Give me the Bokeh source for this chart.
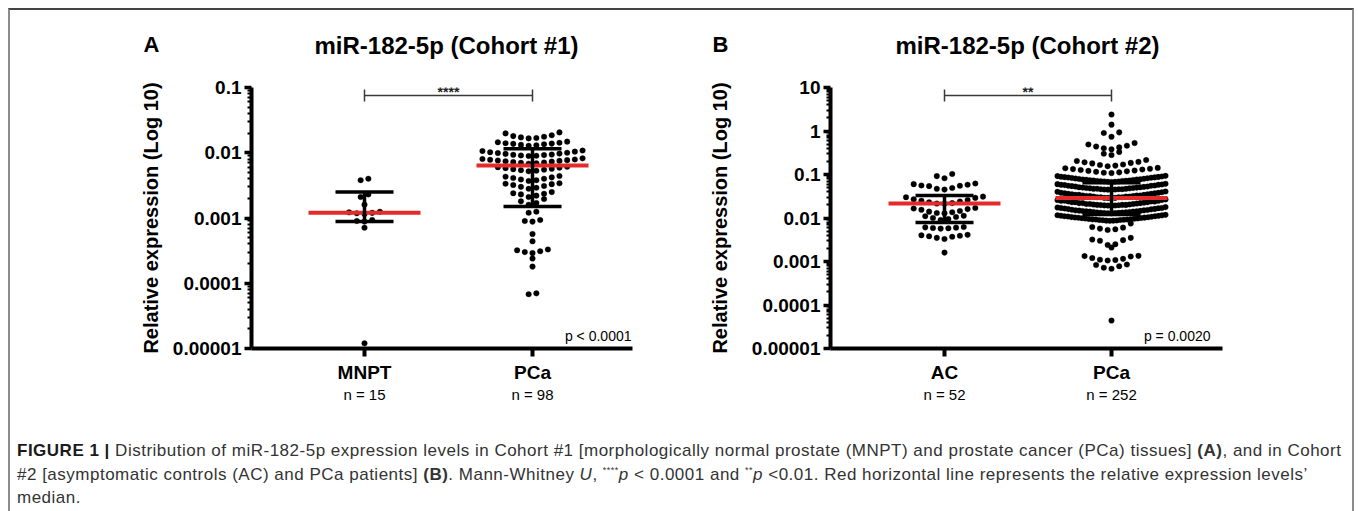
import math
from bokeh.plotting import figure
from bokeh.models import (Range1d, FixedTicker, CustomJSTickFormatter, LinearAxis,
                          Label, Div, ColumnDataSource)
from bokeh.core.properties import value
from bokeh.layouts import row, column
from bokeh.embed import file_html
from bokeh.resources import INLINE

# ---------------- data ----------------
groups_a = ["MNPT", "PCa"]
n_labels_a = ["n = 15", "n = 98"]
title_a = "miR-182-5p (Cohort #1)"
stars_a = "****"
pval_a = "p < 0.0001"
mnpt_a = [0.0040, 0.0038, 0.0023, 0.0021, 0.0016, 0.00125, 0.00122, 0.0012, 0.00118,
          0.00115, 0.00093, 0.0009, 0.00088, 0.00071, 0.000012]
pca_a = [0.0205, 0.0198, 0.0185, 0.018, 0.0176, 0.0172, 0.0168, 0.0166,
         0.0148, 0.0145, 0.0142, 0.014, 0.0138, 0.0137, 0.0135, 0.0132, 0.013, 0.0128,
         0.0108, 0.0106, 0.0104, 0.0102, 0.0100, 0.0099, 0.0097, 0.0096, 0.0094, 0.0093,
         0.0092, 0.0091, 0.0090, 0.0089,
         0.0082, 0.0080, 0.0079, 0.0078, 0.0077, 0.0076, 0.0075, 0.0074, 0.0073, 0.0072,
         0.0071, 0.0070, 0.0069, 0.0068,
         0.0061, 0.0060, 0.0059, 0.0058, 0.0057, 0.0056, 0.0055, 0.0054, 0.0053, 0.0052,
         0.0044, 0.0043, 0.0042, 0.0041, 0.0040, 0.0039, 0.0038, 0.0037,
         0.0034, 0.00335, 0.0033, 0.0032, 0.0031, 0.0030, 0.0029, 0.0028,
         0.0025, 0.0024, 0.00235, 0.0023, 0.0022, 0.0021,
         0.00195, 0.0018, 0.0017, 0.0016,
         0.00125, 0.0012,
         0.00093, 0.0009, 0.00088,
         0.00057, 0.00044,
         0.00033, 0.00032, 0.00031, 0.0003, 0.00029,
         0.00024, 0.00018, 0.000070, 0.000068]
median_a = [0.0012, 0.0064]
q1_a = [0.00088, 0.0015]
q3_a = [0.0025, 0.0115]
yticks_a = [1e-5, 1e-4, 1e-3, 1e-2, 1e-1]
ylabels_a = ["0.00001", "0.0001", "0.001", "0.01", "0.1"]

groups_b = ["AC", "PCa"]
n_labels_b = ["n = 52", "n = 252"]
title_b = "miR-182-5p (Cohort #2)"
stars_b = "**"
pval_b = "p = 0.0020"
ac_b = [0.103, 0.092, 0.082,
        0.062, 0.060, 0.058, 0.056, 0.055, 0.054, 0.049, 0.047, 0.045,
        0.031, 0.030, 0.029, 0.027, 0.026, 0.025, 0.024, 0.023, 0.022, 0.0215, 0.0212,
        0.017, 0.0165, 0.016, 0.0155, 0.0145, 0.014, 0.0135, 0.013, 0.0128,
        0.0112, 0.011, 0.0105, 0.010, 0.0095, 0.009,
        0.0062, 0.0061, 0.006, 0.0059, 0.0058, 0.0057,
        0.0041, 0.004, 0.0039, 0.0038, 0.0037, 0.0035, 0.0033,
        0.0016]
pca_b = [2.4, 1.4, 0.93, 0.90, 0.74,
         0.53, 0.49, 0.46, 0.44, 0.42, 0.40, 0.38,
         0.33, 0.30, 0.28,
         0.215, 0.205, 0.195, 0.19, 0.185, 0.18, 0.17, 0.165, 0.16, 0.155,
         0.142, 0.139, 0.136, 0.133, 0.13, 0.127, 0.124, 0.121, 0.118, 0.115, 0.112, 0.11, 0.108,
         0.093, 0.092, 0.090, 0.089, 0.088, 0.087, 0.086, 0.085, 0.084, 0.083,
         0.082, 0.081, 0.080, 0.079, 0.078, 0.077, 0.077, 0.076, 0.075, 0.074,
         0.073, 0.073, 0.072, 0.071, 0.071, 0.070, 0.069, 0.069, 0.068, 0.068, 0.067,
         0.061, 0.060, 0.059, 0.058, 0.058, 0.057, 0.056, 0.055, 0.055, 0.054,
         0.053, 0.053, 0.052, 0.051, 0.051, 0.050, 0.050, 0.049, 0.049, 0.048,
         0.048, 0.047, 0.047, 0.047, 0.046, 0.046, 0.046, 0.045, 0.045, 0.045, 0.0445,
         0.0405, 0.040, 0.039, 0.038, 0.038, 0.037, 0.037, 0.036, 0.036, 0.035,
         0.035, 0.034, 0.034, 0.034, 0.033, 0.033, 0.033, 0.032, 0.032, 0.032,
         0.031, 0.031, 0.031, 0.030, 0.030, 0.030, 0.030, 0.029, 0.029, 0.029, 0.029,
         0.0268, 0.026, 0.026, 0.025, 0.025, 0.025, 0.024, 0.024, 0.024, 0.023,
         0.023, 0.023, 0.0225, 0.022, 0.022, 0.022, 0.0215, 0.021, 0.021, 0.021,
         0.0205, 0.0205, 0.020, 0.020, 0.020, 0.0198, 0.0196, 0.0195, 0.0194, 0.0193, 0.0192,
         0.0178, 0.0175, 0.017, 0.017, 0.0168, 0.0165, 0.0162, 0.016, 0.0158, 0.0155,
         0.0153, 0.015, 0.015, 0.0148, 0.0146, 0.0145, 0.0143, 0.0142, 0.014, 0.014,
         0.0138, 0.0137, 0.0135, 0.0134, 0.0133, 0.0132, 0.0131, 0.013, 0.013, 0.0129, 0.0128,
         0.0118, 0.0116, 0.0115, 0.0113, 0.0112, 0.011, 0.011, 0.0108, 0.0107, 0.0105,
         0.0104, 0.0103, 0.0102, 0.0101, 0.010, 0.0099, 0.0098, 0.0097, 0.0096, 0.0095,
         0.0094, 0.0093, 0.0092, 0.0092, 0.0091, 0.009, 0.009, 0.0089, 0.0088, 0.0087,
         0.0087, 0.0086,
         0.0075, 0.0062, 0.006, 0.0057, 0.0055, 0.0053,
         0.0035, 0.0032, 0.0031, 0.003, 0.0025, 0.0024,
         0.0021,
         0.00135, 0.00133, 0.0013, 0.0012, 0.00115, 0.0011, 0.00108, 0.00105,
         0.00085, 0.00083, 0.00078, 0.00072, 0.00068,
         0.000044]
median_b = [0.0215, 0.029]
q1_b = [0.0079, 0.012]
q3_b = [0.033, 0.065]
yticks_b = [1e-5, 1e-4, 1e-3, 1e-2, 1e-1, 1, 10]
ylabels_b = ["0.00001", "0.0001", "0.001", "0.01", "0.1", "1", "10"]

panel_letters = ["A", "B"]
y_title = "Relative expression (Log 10)"
caption_html = (
    "<b style='color:#1a1a1a'>FIGURE 1 |</b> Distribution of miR-182-5p expression levels in Cohort #1 "
    "[morphologically normal prostate (MNPT) and prostate cancer (PCa) tissues] <b>(A)</b>, and in Cohort<br>"
    "#2 [asymptomatic controls (AC) and PCa patients] <b>(B)</b>. Mann-Whitney <i>U</i>, "
    "<sup style='font-size:9px;line-height:0'>****</sup><i>p</i> &lt; 0.0001 and "
    "<sup style='font-size:9px;line-height:0'>**</sup><i>p</i> &lt;0.01. "
    "Red horizontal line represents the relative expression levels&#8217;<br>median."
)

FONT = "Liberation Sans"
RED = "#e32b2b"

# ---------------- layout constants (page pixels) ----------------
ORIGIN_X, ORIGIN_Y = 10, 10    # page position of the content (inside the border)
TOTAL_W = 1342
HEADER_H = 65
FIG_H = 337
FRAME_TOP = 87                 # page y of plot frames' top
FRAME_H = 261
TOP_BORDER = FRAME_TOP - ORIGIN_Y - HEADER_H
BOTTOM_BORDER = FIG_H - TOP_BORDER - FRAME_H
CAP_H = 99


def swarm(values, center, ppd, ppu, row_h, step, max_half):
    pix = [-math.log10(v) * ppd for v in values]
    order = sorted(range(len(values)), key=lambda i: pix[i])
    rows, cur, start = [], [], None
    for i in order:
        if start is None or pix[i] - start >= row_h:
            if cur:
                rows.append(cur)
            cur, start = [i], pix[i]
        else:
            cur.append(i)
    if cur:
        rows.append(cur)
    xs = [0.0] * len(values)
    for r in rows:
        r = sorted(r, key=lambda i: values[i])
        n = len(r)
        sp = step if n < 2 else min(step, 2 * max_half / (n - 1))
        for k, i in enumerate(r):
            if n % 2:
                slot = 0 if k == 0 else ((k + 1) // 2) * (-1 if k % 2 else 1)
            else:
                slot = (k // 2 + 0.5) * (-1 if k % 2 == 0 else 1)
            xs[i] = center + slot * sp / ppu
    return xs


def make_panel(cfg):
    page_x0 = cfg["page_x0"]
    frame_left = cfg["frame_left"]
    frame_w = cfg["frame_w"]
    ppu = cfg["ppu"]
    cat1_px = cfg["cat1_px"]
    x_start = 1 - (cat1_px - frame_left) / ppu
    x_end = x_start + frame_w / ppu
    ymin, ymax = cfg["ymin"], cfg["ymax"]
    ldec = math.log10(ymax) - math.log10(ymin)
    ppd = FRAME_H / ldec

    def xd(px):
        return x_start + (px - frame_left) / ppu

    def yd(py):
        return 10 ** (math.log10(ymax) - (py - FRAME_TOP) / ppd)

    mbl = frame_left - page_x0
    mbr = cfg["width"] - mbl - frame_w
    p = figure(width=cfg["width"], height=FIG_H,
               x_range=Range1d(x_start, x_end), y_range=Range1d(ymin, ymax),
               y_axis_type="log", output_backend="svg", toolbar_location=None,
               min_border_left=mbl, min_border_right=mbr,
               min_border_top=TOP_BORDER, min_border_bottom=BOTTOM_BORDER)
    p.grid.visible = False
    p.outline_line_color = None
    p.background_fill_color = "white"
    p.border_fill_color = "white"

    # y axis
    ya = p.yaxis[0]
    e0, e1 = round(math.log10(ymin)), round(math.log10(ymax))
    minors = [m * 10.0 ** e for e in range(e0, e1) for m in range(2, 10)]
    ya.ticker = FixedTicker(ticks=cfg["yticks"], minor_ticks=minors)
    ya.formatter = CustomJSTickFormatter(
        args=dict(tick_vals=cfg["yticks"], tick_texts=cfg["ylabels"]),
        code="""
        for (let i = 0; i < tick_vals.length; i++) {
            if (Math.abs(Math.log10(tick_vals[i]) - Math.log10(tick)) < 1e-6) { return tick_texts[i]; }
        }
        return "";
        """)
    ya.axis_line_width = 4
    ya.axis_line_color = "black"
    ya.major_tick_line_width = 3.5
    ya.major_tick_line_color = "black"
    ya.major_tick_out = 7
    ya.major_tick_in = 0
    ya.minor_tick_line_width = 2
    ya.minor_tick_line_color = "black"
    ya.minor_tick_out = 4
    ya.minor_tick_in = 0
    ya.major_label_text_font = FONT
    ya.major_label_text_font_style = "bold"
    ya.major_label_text_font_size = "19px"
    ya.major_label_text_color = "black"
    ya.major_label_standoff = 3
    ya.axis_label = y_title
    ya.axis_label_text_font = FONT
    ya.axis_label_text_font_style = "bold"
    ya.axis_label_text_font_size = "20px"
    ya.axis_label_text_color = "black"
    ya.axis_label_standoff = cfg["ylabel_standoff"]

    # x axis (group names)
    xa = p.xaxis[0]
    xa.ticker = FixedTicker(ticks=[1, 2])
    xa.major_label_overrides = {1: cfg["groups"][0], 2: cfg["groups"][1]}
    xa.axis_line_width = 4
    xa.axis_line_color = "black"
    xa.major_tick_line_width = 4
    xa.major_tick_line_color = "black"
    xa.major_tick_out = 8
    xa.major_tick_in = 0
    xa.minor_tick_line_color = None
    xa.major_label_text_font = FONT
    xa.major_label_text_font_style = "bold"
    xa.major_label_text_font_size = "19px"
    xa.major_label_text_color = "black"
    xa.major_label_standoff = 5

    # second x axis (sample sizes)
    xa2 = LinearAxis(ticker=FixedTicker(ticks=[1, 2]),
                     major_label_overrides={1: cfg["nlabels"][0], 2: cfg["nlabels"][1]})
    xa2.axis_line_color = None
    xa2.major_tick_line_color = None
    xa2.minor_tick_line_color = None
    xa2.major_tick_out = 0
    xa2.major_label_text_font = FONT
    xa2.major_label_text_font_size = "15px"
    xa2.major_label_text_color = "black"
    xa2.major_label_standoff = 0
    p.add_layout(xa2, "below")

    # dots
    step, max_half, row_h = 7.7, cfg["max_half"], cfg["row_h"]
    for ci, vals in enumerate(cfg["series"]):
        xs = swarm(vals, ci + 1, ppd, ppu, row_h, step, max_half)
        p.scatter(x=xs, y=vals, size=5.6, marker="circle", fill_color="black",
                  line_color="black", line_width=0.3)

    cats = [1, 2]
    mhalf = 56 / ppu
    chalf = 29 / ppu
    med_src = ColumnDataSource(dict(x0=[c - mhalf for c in cats], x1=[c + mhalf for c in cats],
                                    y=cfg["median"]))
    p.segment(x0="x0", y0="y", x1="x1", y1="y", source=med_src, line_color=RED, line_width=4)
    err_src = ColumnDataSource(dict(x=cats, lo=cfg["q1"], hi=cfg["q3"],
                                    cx0=[c - chalf for c in cats], cx1=[c + chalf for c in cats]))
    p.segment(x0="x", y0="lo", x1="x", y1="hi", source=err_src, line_color="black", line_width=3.5)
    p.segment(x0="cx0", y0="lo", x1="cx1", y1="lo", source=err_src, line_color="black", line_width=3.5)
    p.segment(x0="cx0", y0="hi", x1="cx1", y1="hi", source=err_src, line_color="black", line_width=3.5)

    # significance bracket
    yb, yt, ybt = yd(95), yd(89), yd(101)
    p.segment(x0=[1, 1, 2], y0=[yb, yt, yt], x1=[2, 1, 2], y1=[yb, ybt, ybt],
              line_color="#3a3a3a", line_width=1.5)

    p.add_layout(Label(x=1.5, y=yd(91), text=cfg["stars"], text_font=FONT,
                       text_font_style="bold", text_font_size="14px", text_align="center",
                       text_baseline="alphabetic", text_color="#222222"))
    p.add_layout(Label(x=xd(cfg["pval_px"]), y=yd(335), text=cfg["pval"], text_font=FONT,
                       text_font_size="14px", text_align="right",
                       text_baseline="middle", text_color="black"))
    return p


# header with panel letters and titles (page pixel positions -> header coordinates)
header = figure(width=TOTAL_W, height=HEADER_H, x_range=Range1d(0, TOTAL_W),
                y_range=Range1d(HEADER_H, 0), output_backend="svg", toolbar_location=None,
                x_axis_location=None, y_axis_location=None,
                min_border_left=0, min_border_right=0, min_border_top=0, min_border_bottom=0)
header.grid.visible = False
header.outline_line_color = None
header.border_fill_color = "white"
letter_px = [(143, 44), (712, 44)]
title_px = [(446, 45), (1027, 45)]
header.text(x=[px - ORIGIN_X for px, _ in letter_px], y=[py - ORIGIN_Y for _, py in letter_px],
            text=panel_letters, text_font=value(FONT), text_font_style="bold",
            text_font_size="22px", text_align="left", text_baseline="middle", text_color="black")
header.text(x=[px - ORIGIN_X for px, _ in title_px], y=[py - ORIGIN_Y for _, py in title_px],
            text=[title_a, title_b], text_font=value(FONT), text_font_style="bold",
            text_font_size="24px", text_align="center", text_baseline="middle", text_color="black")

pa = make_panel(dict(page_x0=ORIGIN_X, width=680, frame_left=251, frame_w=381, ppu=168, cat1_px=364,
                     ymin=1e-5, ymax=0.1, yticks=yticks_a, ylabels=ylabels_a,
                     groups=groups_a, nlabels=n_labels_a, series=[mnpt_a, pca_a],
                     median=median_a, q1=q1_a, q3=q3_a, stars=stars_a,
                     pval=pval_a, pval_px=631, ylabel_standoff=8, max_half=52, row_h=6.5))
pb = make_panel(dict(page_x0=ORIGIN_X + 680, width=TOTAL_W - 680, frame_left=830, frame_w=392,
                     ppu=167, cat1_px=944,
                     ymin=1e-5, ymax=10, yticks=yticks_b, ylabels=ylabels_b,
                     groups=groups_b, nlabels=n_labels_b, series=[ac_b, pca_b],
                     median=median_b, q1=q1_b, q3=q3_b, stars=stars_b,
                     pval=pval_b, pval_px=1210, ylabel_standoff=18, max_half=54, row_h=7.5))

cap = Div(text=("<div style=\"font-family:'Liberation Sans',Arial,sans-serif;"
                "font-size:17px;letter-spacing:0.5px;line-height:23.5px;color:#333333;"
                "padding:22px 0 0 2px;margin:0;white-space:nowrap;\">" + caption_html + "</div>"),
          width=TOTAL_W, height=CAP_H)

layout = column(header, row(pa, pb), cap,
                styles={"position": "absolute", "left": "8px", "top": "8px",
                        "width": "1346px", "height": "503px", "box-sizing": "border-box",
                        "border-top": "2px solid #444444", "border-left": "2px solid #8c8c8c",
                        "border-right": "2px solid #8c8c8c", "background": "white"})

open("out.html", "w").write(file_html(layout, INLINE))
